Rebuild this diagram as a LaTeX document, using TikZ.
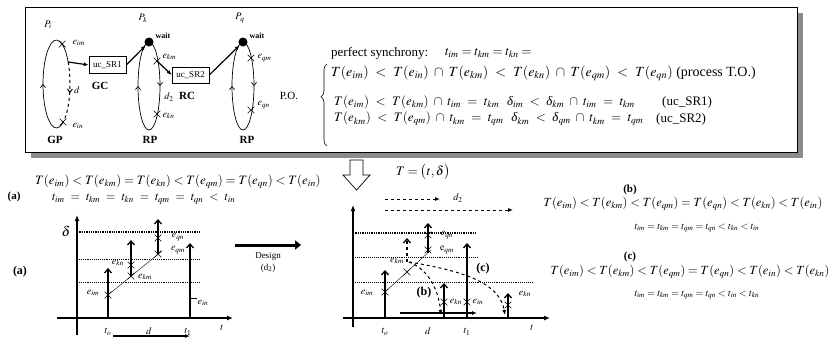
\documentclass[tikz,border=0pt]{standalone}
\usepackage{mathptmx}
\usepackage[no-math]{fontspec}
\setmainfont{Liberation Serif}
\usetikzlibrary{arrows.meta, shapes.misc, decorations.pathreplacing, decorations.markings, positioning}

\newcommand\widerel{\thickmuskip=9mu plus 3mu\medmuskip=7mu plus 2mu\relax}
\newcommand\dlt{\mbox{\itshape δ}}
\tikzset{
  loopline/.style={line width=.7pt},
  midarr/.style={postaction={decorate}, decoration={markings,
      mark=at position 0.5 with {\arrow{Straight Barb[length=3pt,width=5pt]}}}},
  link/.style={line width=1.2pt, -{Latex[length=5pt,width=4pt]}},
  ucbox/.style={draw, line width=.6pt, minimum width=37pt, minimum height=17pt, inner sep=1pt, font=\fontsize{9}{10}\selectfont},
  waitdot/.style={circle, fill, inner sep=0pt, minimum size=9pt},
  cross/.style={cross out, draw, minimum size=6pt, inner sep=0pt, line width=.6pt},
  bold/.style={font=\fontsize{11}{12}\selectfont\bfseries},
  eq/.style={inner sep=0pt},
  axis/.style={line width=1.3pt, -{Latex[length=6pt,width=5pt]}},
  level/.style={densely dotted, line width=.9pt},
  evt/.style={line width=1.3pt, -{Straight Barb[length=4pt,width=7pt]}},
  dasharr/.style={dashed, line width=1pt, -{Latex[length=5pt,width=4pt]}},
}
\newcommand\lblsize{\fontsize{10}{12}\selectfont}

\begin{document}
\begin{tikzpicture}[x=1pt, y=1pt, font=\lblsize]
\useasboundingbox (0,0) rectangle (835,-338);

% process box with shadow
\fill[black!45] (31,-13) rectangle (803,-158);
\draw[fill=white, line width=.6pt] (25,-7) rectangle (797,-152);

\node (Pi) at (48,-25) {$P_i$};
\node (Pk) at (143,-18) {$P_k$};
\node (Pq) at (240,-18) {$P_q$};

% GP loop
\draw[loopline, midarr] (56.5,-128) arc[start angle=-90, end angle=-270, x radius=13.5, y radius=44];
\draw[loopline] (56.5,-40) arc[start angle=90, end angle=30, x radius=13.5, y radius=44] coordinate (gpout);
\draw[loopline, dashed, line width=1pt, midarr] (gpout) arc[start angle=30, end angle=-62, x radius=13.5, y radius=44] coordinate (gpend);
\draw[loopline] (gpend) arc[start angle=-62, end angle=-90, x radius=13.5, y radius=44];
\node[cross] (eim) at (62.2,-44.1) {};
\node[cross] (ein) at (63,-122) {};
\node[anchor=west] at (69,-43) {$e_{im}$};
\node[anchor=west] at (69,-126) {$e_{in}$};
\node (dlab) at (77,-90) {$d$};

% RP loops
\draw[loopline, midarr] (149,-130) arc[start angle=-90, end angle=-270, x radius=11, y radius=44];
\draw[loopline, midarr] (149,-42) arc[start angle=90, end angle=-90, x radius=11, y radius=44];
\draw[loopline, midarr] (243,-130) arc[start angle=-90, end angle=-270, x radius=11, y radius=44];
\draw[loopline, midarr] (243,-42) arc[start angle=90, end angle=-90, x radius=11, y radius=44];
\node[waitdot] (kdot) at (149,-42) {};
\node[waitdot] (qdot) at (243,-42) {};
\node[anchor=west, font=\fontsize{8}{9}\selectfont\bfseries] at (152,-36) {wait};
\node[anchor=west, font=\fontsize{8}{9}\selectfont\bfseries] at (246,-36) {wait};
\node[cross] (ekm) at (157,-61) {};
\node[cross] (ekn) at (157,-114) {};
\node[cross] (eqm) at (251,-58) {};
\node[cross] (eqn) at (251,-110) {};
\node[anchor=west] at (159,-57) {$e_{km}$};
\node[anchor=west] at (159,-116) {$e_{kn}$};
\node[anchor=west] at (254,-58) {$e_{qm}$};
\node[anchor=west] at (254,-105) {$e_{qn}$};
\node (d2lab) at (169,-97) {$d_2$};

% channels
\node[ucbox] (sr1) at (107.5,-65) {uc\_SR1};
\node[ucbox, minimum height=16pt] (sr2) at (190.5,-75) {uc\_SR2};
\node[bold] (GC) at (100,-86) {GC};
\node[bold] (RC) at (187,-96) {RC};
\draw[link] (gpout) -- (sr1.west);
\draw[link] (sr1.east) -- (kdot);
\draw[link] (ekm.center) -- (sr2.west);
\draw[link] (sr2.east) -- (qdot);

\node[bold] (GP) at (55,-140) {GP};
\node[bold] (RP1) at (150,-140) {RP};
\node[bold] (RP2) at (247,-140) {RP};

% partial order
\node[font=\fontsize{11}{12}\selectfont] (PO) at (289,-96) {P.O.};
\draw[line width=.6pt, decorate, decoration={brace, amplitude=6pt, aspect=0.6}] (327,-146) -- (327,-64);
\node[eq, anchor=west, font=\fontsize{13}{15}\selectfont] (sync) at (331,-53) {perfect synchrony:};
\node[eq, anchor=west, font=\fontsize{13}{15}\selectfont] at (445,-53) {$t_{im} = t_{km} = t_{kn} =$};
\node[eq, anchor=west, font=\fontsize{14}{16}\selectfont\widerel] (to) at (331,-73)
  {$T(e_{im}) < T(e_{in}) \cap T(e_{km}) < T(e_{kn}) \cap T(e_{qm}) < T(e_{qn})$ (process T.O.)};
\node[eq, anchor=west, font=\fontsize{13}{15}\selectfont\widerel] (po1) at (334,-102)
  {$T(e_{im}) < T(e_{km}) \cap t_{im} = t_{km}\;\, \dlt_{im} < \dlt_{km} \cap t_{im} = t_{km}$};
\node[eq, anchor=west, font=\fontsize{13}{15}\selectfont] at (662,-102) {(uc\_SR1)};
\node[eq, anchor=west, font=\fontsize{13}{15}\selectfont\widerel] (po2) at (334,-119)
  {$T(e_{km}) < T(e_{qm}) \cap t_{km} = t_{qm}\;\, \dlt_{km} < \dlt_{qm} \cap t_{km} = t_{qm}$};
\node[eq, anchor=west, font=\fontsize{13}{15}\selectfont] at (656,-119) {(uc\_SR2)};

% hollow arrow and T
\draw[line width=.7pt] (350,-160) -- (363,-160) -- (363,-175) -- (370,-175) -- (356.5,-190) -- (343,-175) -- (350,-175) -- cycle;
\node[font=\fontsize{13}{15}\selectfont] (Tdef) at (423,-172) {$T = \bigl(t,\delta\bigr)$};

% case (a)
\node[eq, anchor=west, font=\fontsize{12.8}{14}\selectfont] (fa) at (35,-182)
  {$T(e_{im}) < T(e_{km}) = T(e_{kn}) < T(e_{qm}) = T(e_{qn}) < T(e_{in})$};
\node[bold] (la) at (14,-197) {(a)};
\node[eq, anchor=west, font=\fontsize{12}{14}\selectfont\widerel] (ta) at (52,-199)
  {$t_{im} = t_{km} = t_{kn} = t_{qm} = t_{qn} < t_{in}$};
\node[font=\fontsize{12}{13}\selectfont\bfseries] (la2) at (20,-272) {(a)};

% plot (a)
\draw[axis] (77,-335) -- (77,-215);
\draw[axis] (57,-318) -- (233,-318);
\node[font=\fontsize{14}{15}\selectfont] at (66,-231) {$\delta$};
\draw[level, line width=1.3pt] (77,-232) -- (200,-232);
\draw[level] (77,-259) -- (200,-259);
\draw[level] (77,-282) -- (200,-282);
\node[cross] (aim) at (108,-295) {};
\node[cross] (akn) at (131,-265) {};
\node[cross] (akm) at (131,-276) {};
\node[cross] (aqn) at (158,-238) {};
\node[cross] (aqm) at (158,-254) {};
\draw[thin] (aim.center) -- (162,-251);
\draw[evt] (108,-318) -- (108,-268);
\draw[evt] (akm.center) -- (131,-240);
\draw[evt] (aqm.center) -- (158,-219);
\draw[evt] (190,-318) -- (190,-243);
\draw (190,-298) -- (197,-298);
\node at (93,-293) {$e_{im}$};
\node at (118,-263) {$e_{kn}$};
\node at (145,-277) {$e_{km}$};
\node at (178,-237) {$e_{qn}$};
\node at (178,-250) {$e_{qm}$};
\node at (203,-303) {$e_{in}$};
\node at (108,-332) {$t_o$};
\node at (149,-331) {$d$};
\node at (188,-332) {$t_1$};
\node at (222,-328) {$t$};
\draw[line width=1.2pt, -{Latex[length=5pt,width=4pt]}] (113,-336) -- (190,-336);

% design step
\draw[line width=3pt, -{Triangle[length=6pt,width=9pt]}] (235,-245) -- (301,-245);
\node[font=\fontsize{9}{10}\selectfont] (design) at (268,-256) {Design};
\node[font=\fontsize{9}{10}\selectfont] at (268,-268) {(d\textsubscript{2})};

% plot (b)/(c)
\draw[axis] (353,-327) -- (353,-205);
\draw[axis] (343,-318) -- (550,-318);
\draw[level, line width=1.3pt] (353,-233) -- (477,-233);
\draw[level] (353,-257) -- (477,-257);
\draw[level] (353,-282) -- (533,-282);
\draw[dasharr] (385,-199) -- (440,-199);
\node at (458,-198) {$d_2$};
\draw[dasharr] (385,-210) -- (513,-210);
\node[cross] (bim) at (385,-292) {};
\node[cross] (bkm) at (407,-272) {};
\node[cross] (bqn) at (428,-235) {};
\node[cross] (bqm) at (428,-250) {};
\node[cross] (bkn) at (444,-302) {};
\node[cross] (bin) at (467,-302) {};
\node[cross] (bkn2) at (508,-305) {};
\draw[thin] (bim.center) -- (431,-250);
\draw[evt] (385,-318) -- (385,-270);
\draw[evt, dashed] (407,-262) -- (407,-238);
\draw[evt] (428,-253) -- (428,-223);
\draw[evt] (444,-318) -- (444,-283);
\draw[evt] (467,-318) -- (467,-243);
\draw[evt] (508,-318) -- (508,-293);
\coordinate (bstart) at (409,-262);
\draw[dasharr] (bstart) .. controls (425,-268) and (438,-285) .. (441,-315);
\draw[dasharr] (bstart) .. controls (470,-272) and (500,-285) .. (505,-315);
\draw[line width=1.2pt, -{Latex[length=5pt,width=4pt]}] (400,-313) -- (477,-313);
\node[font=\fontsize{12}{13}\selectfont\bfseries] at (424,-293) {(b)};
\node[font=\fontsize{12}{13}\selectfont\bfseries] at (483,-269) {(c)};
\node at (367,-293) {$e_{im}$};
\node at (397,-261) {$e_{km}$};
\node at (447,-235) {$e_{qn}$};
\node at (447,-250) {$\mathrm{e}_{qm}$};
\node at (456,-302) {$e_{kn}$};
\node at (478,-302) {$e_{in}$};
\node at (525,-294) {$e_{kn}$};
\node at (385,-332) {$t_o$};
\node at (428,-331) {$d$};
\node at (467,-332) {$t_1$};
\node at (532,-328) {$t$};

% cases (b) and (c)
\node[bold] (lb) at (630,-190) {(b)};
\node[eq, font=\fontsize{12.5}{14}\selectfont] (fb) at (683,-204)
  {$T(e_{im}) < T(e_{km}) < T(e_{qm}) = T(e_{qn}) < T(e_{kn}) < T(e_{in})$};
\node[eq, font=\fontsize{10}{12}\selectfont] (tb) at (697,-228) {$t_{im} = t_{km} = t_{qm} = t_{qn} < t_{kn} < t_{in}$};
\node[bold] (lc) at (630,-257) {(c)};
\node[eq, font=\fontsize{12.5}{14}\selectfont] (fc) at (690,-272)
  {$T(e_{im}) < T(e_{km}) < T(e_{qm}) = T(e_{qn}) < T(e_{in}) < T(e_{kn})$};
\node[eq, font=\fontsize{10}{12}\selectfont] (tc) at (697,-295) {$t_{im} = t_{km} = t_{qm} = t_{qn} < t_{in} < t_{kn}$};
\end{tikzpicture}
\end{document}
